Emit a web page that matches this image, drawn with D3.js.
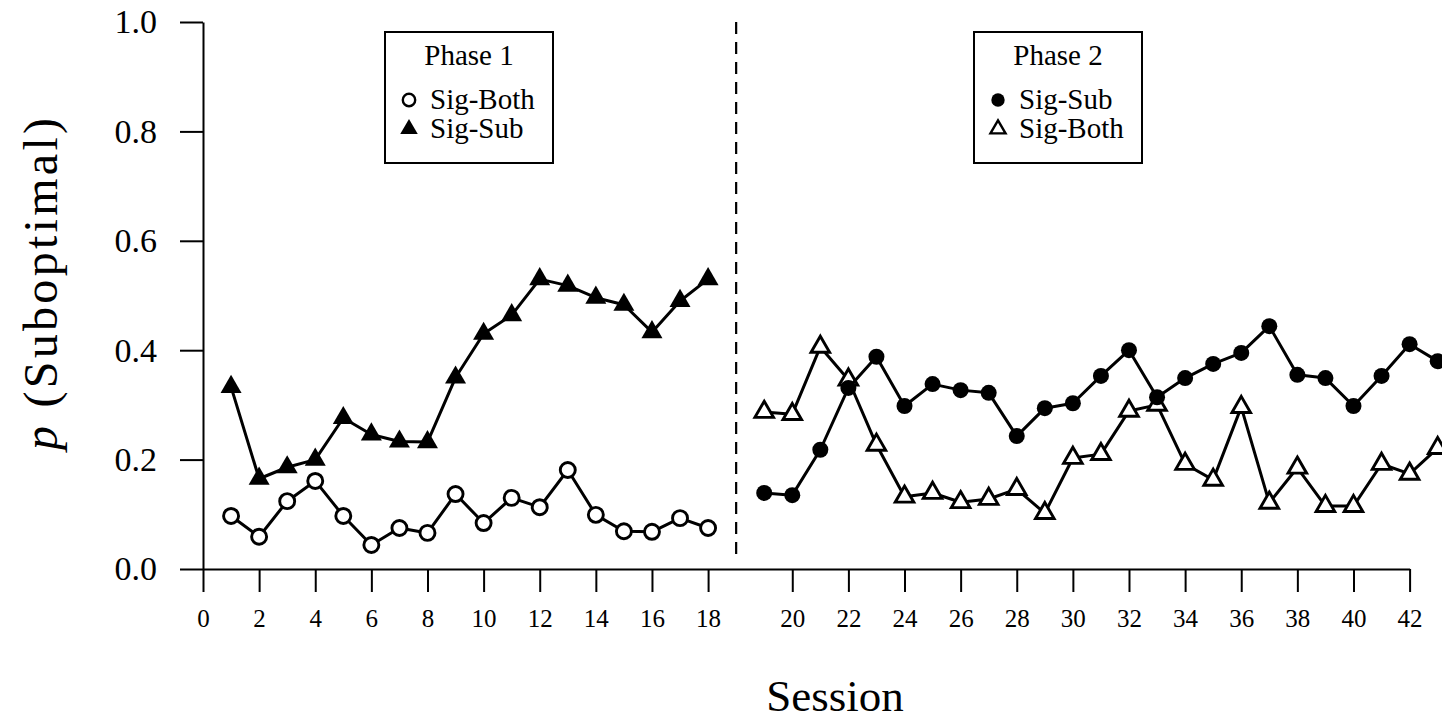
<!DOCTYPE html>
<html>
<head>
<meta charset="utf-8">
<script src="https://cdn.jsdelivr.net/npm/d3@7"></script>
<style>
  html, body { margin: 0; padding: 0; background: #fff; }
  svg { display: block; }
  text { font-family: "Liberation Serif", "Times New Roman", serif; fill: #000; }
</style>
</head>
<body>
<svg id="chart" width="1442" height="723"></svg>
<script>
// Session numbers for each phase
const sessionsPhase1 = [1, 2, 3, 4, 5, 6, 7, 8, 9, 10, 11, 12, 13, 14, 15, 16, 17, 18];
const sessionsPhase2 = [19, 20, 21, 22, 23, 24, 25, 26, 27, 28, 29, 30, 31, 32, 33, 34, 35, 36, 37, 38, 39, 40, 41, 42, 43];

// Proportion of suboptimal choices, Phase 1
const phase1SigBoth = [0.097, 0.059, 0.124, 0.161, 0.097, 0.044, 0.075, 0.066, 0.137, 0.084,
                       0.130, 0.113, 0.181, 0.099, 0.069, 0.068, 0.093, 0.075];
const phase1SigSub  = [0.333, 0.165, 0.186, 0.200, 0.276, 0.246, 0.233, 0.232, 0.350, 0.430,
                       0.464, 0.530, 0.518, 0.496, 0.483, 0.433, 0.490, 0.530];

// Proportion of suboptimal choices, Phase 2
const phase2SigSub  = [0.139, 0.135, 0.218, 0.331, 0.388, 0.298, 0.338, 0.327, 0.322, 0.243,
                       0.294, 0.303, 0.353, 0.400, 0.314, 0.349, 0.375, 0.395, 0.444, 0.355,
                       0.349, 0.298, 0.353, 0.411, 0.380];
const phase2SigBoth = [0.287, 0.283, 0.406, 0.346, 0.227, 0.132, 0.139, 0.122, 0.128, 0.146,
                       0.102, 0.203, 0.210, 0.289, 0.300, 0.192, 0.163, 0.296, 0.121, 0.185,
                       0.115, 0.115, 0.192, 0.174, 0.221];

// Axis ticks
const xTickLabels = [0, 2, 4, 6, 8, 10, 12, 14, 16, 18, 20, 22, 24, 26, 28, 30, 32, 34, 36, 38, 40, 42];
const yTicks = [0, 0.2, 0.4, 0.6, 0.8, 1.0];

// Legend contents
const legendTitles = ["Phase 1", "Phase 2"];
const legendPhase1 = [{ label: "Sig-Both", shape: "circle", filled: false },
                      { label: "Sig-Sub",  shape: "triangle", filled: true }];
const legendPhase2 = [{ label: "Sig-Sub",  shape: "circle", filled: true },
                      { label: "Sig-Both", shape: "triangle", filled: false }];

// Phase 2 is plotted one slot to the right, leaving room for the phase divider
const lastPhase1Session = 18;
const slot = s => s > lastPhase1Session ? s + 1 : s;
const dividerSlot = lastPhase1Session + 1;

const svg = d3.select("#chart");
const x = d3.scaleLinear().domain([0, 43]).range([203, 1409.6]);
const y = d3.scaleLinear().domain([0, 1]).range([569, 22]);

svg.append("rect").attr("width", 1442).attr("height", 723).attr("fill", "#fff");

// Axes
const yAxis = d3.axisLeft(y).tickValues(yTicks).tickFormat(d3.format(".1f"))
  .tickSize(23).tickSizeOuter(0).tickPadding(23);
const gy = svg.append("g").attr("transform", `translate(${x(0)},0)`).call(yAxis);
gy.selectAll("path, line").attr("stroke", "#000").attr("stroke-width", 2);
gy.selectAll("text").attr("font-size", 34).attr("font-family", null);

const xAxis = d3.axisBottom(x).tickValues(xTickLabels.map(slot))
  .tickFormat((d, i) => xTickLabels[i]).tickSize(23).tickSizeOuter(0).tickPadding(17);
const gx = svg.append("g").attr("transform", `translate(0,${y(0)})`).call(xAxis);
gx.selectAll("path, line").attr("stroke", "#000").attr("stroke-width", 2);
gx.selectAll("text").attr("font-size", 25).attr("font-family", null);

// Phase divider
svg.append("line")
  .attr("x1", x(dividerSlot)).attr("x2", x(dividerSlot))
  .attr("y1", y(1)).attr("y2", y(0.024))
  .attr("stroke", "#000").attr("stroke-width", 2.2)
  .attr("stroke-dasharray", "12,8");

// Axis titles
svg.append("text")
  .attr("x", 835).attr("y", 711).attr("text-anchor", "middle")
  .attr("font-size", 45).text("Session");

const yTitle = svg.append("text")
  .attr("transform", "translate(57,284) rotate(-90)")
  .attr("text-anchor", "middle").attr("font-size", 48)
  .attr("textLength", 332).attr("lengthAdjust", "spacing");
yTitle.append("tspan").attr("font-style", "italic").text("p");
yTitle.append("tspan").text(" (Suboptimal)");

// Marker drawing
const R = 7.5;
function trianglePath(r) {
  const top = 1.555 * r, half = 1.347 * r, base = 0.778 * r;
  return `M0,${-top}L${half},${base}L${-half},${base}Z`;
}
function drawMarkers(g, pts, shape, filled, r, sw) {
  if (shape === "circle") {
    g.selectAll(null).data(pts).join("circle")
      .attr("cx", d => d[0]).attr("cy", d => d[1]).attr("r", filled ? r + 0.5 : r)
      .attr("fill", filled ? "#000" : "#fff")
      .attr("stroke", filled ? "none" : "#000").attr("stroke-width", sw);
  } else {
    g.selectAll(null).data(pts).join("path")
      .attr("transform", d => `translate(${d[0]},${d[1]})`)
      .attr("d", trianglePath(filled ? r + 0.3 : r - 0.6))
      .attr("fill", filled ? "#000" : "#fff")
      .attr("stroke", filled ? "none" : "#000").attr("stroke-width", sw)
      .attr("stroke-linejoin", "miter");
  }
}
function drawSeries(sessions, values, shape, filled) {
  const pts = sessions.map((s, i) => [x(slot(s)), y(values[i])]);
  const g = svg.append("g");
  g.append("path").attr("d", d3.line()(pts))
    .attr("fill", "none").attr("stroke", "#000").attr("stroke-width", 3)
    .attr("stroke-linejoin", "round");
  drawMarkers(g, pts, shape, filled, R, 2.9);
}

drawSeries(sessionsPhase1, phase1SigBoth, "circle", false);
drawSeries(sessionsPhase1, phase1SigSub, "triangle", true);
drawSeries(sessionsPhase2, phase2SigBoth, "triangle", false);
drawSeries(sessionsPhase2, phase2SigSub, "circle", true);

// Legends
function drawLegend(x0, title, entries) {
  const g = svg.append("g").attr("transform", `translate(${x0},32)`);
  g.append("rect").attr("width", 168).attr("height", 131)
    .attr("fill", "#fff").attr("stroke", "#000").attr("stroke-width", 2);
  g.append("text").attr("x", 84).attr("y", 33).attr("text-anchor", "middle")
    .attr("font-size", 29).text(title);
  entries.forEach((e, i) => {
    const cy = 68 + i * 29;
    const mg = g.append("g");
    drawMarkers(mg, [[24, cy]], e.shape, e.filled, 6.2, 2.4);
    g.append("text").attr("x", 45).attr("y", cy + 9).attr("font-size", 29).text(e.label);
  });
}
drawLegend(385, legendTitles[0], legendPhase1);
drawLegend(974, legendTitles[1], legendPhase2);
</script>
</body>
</html>
